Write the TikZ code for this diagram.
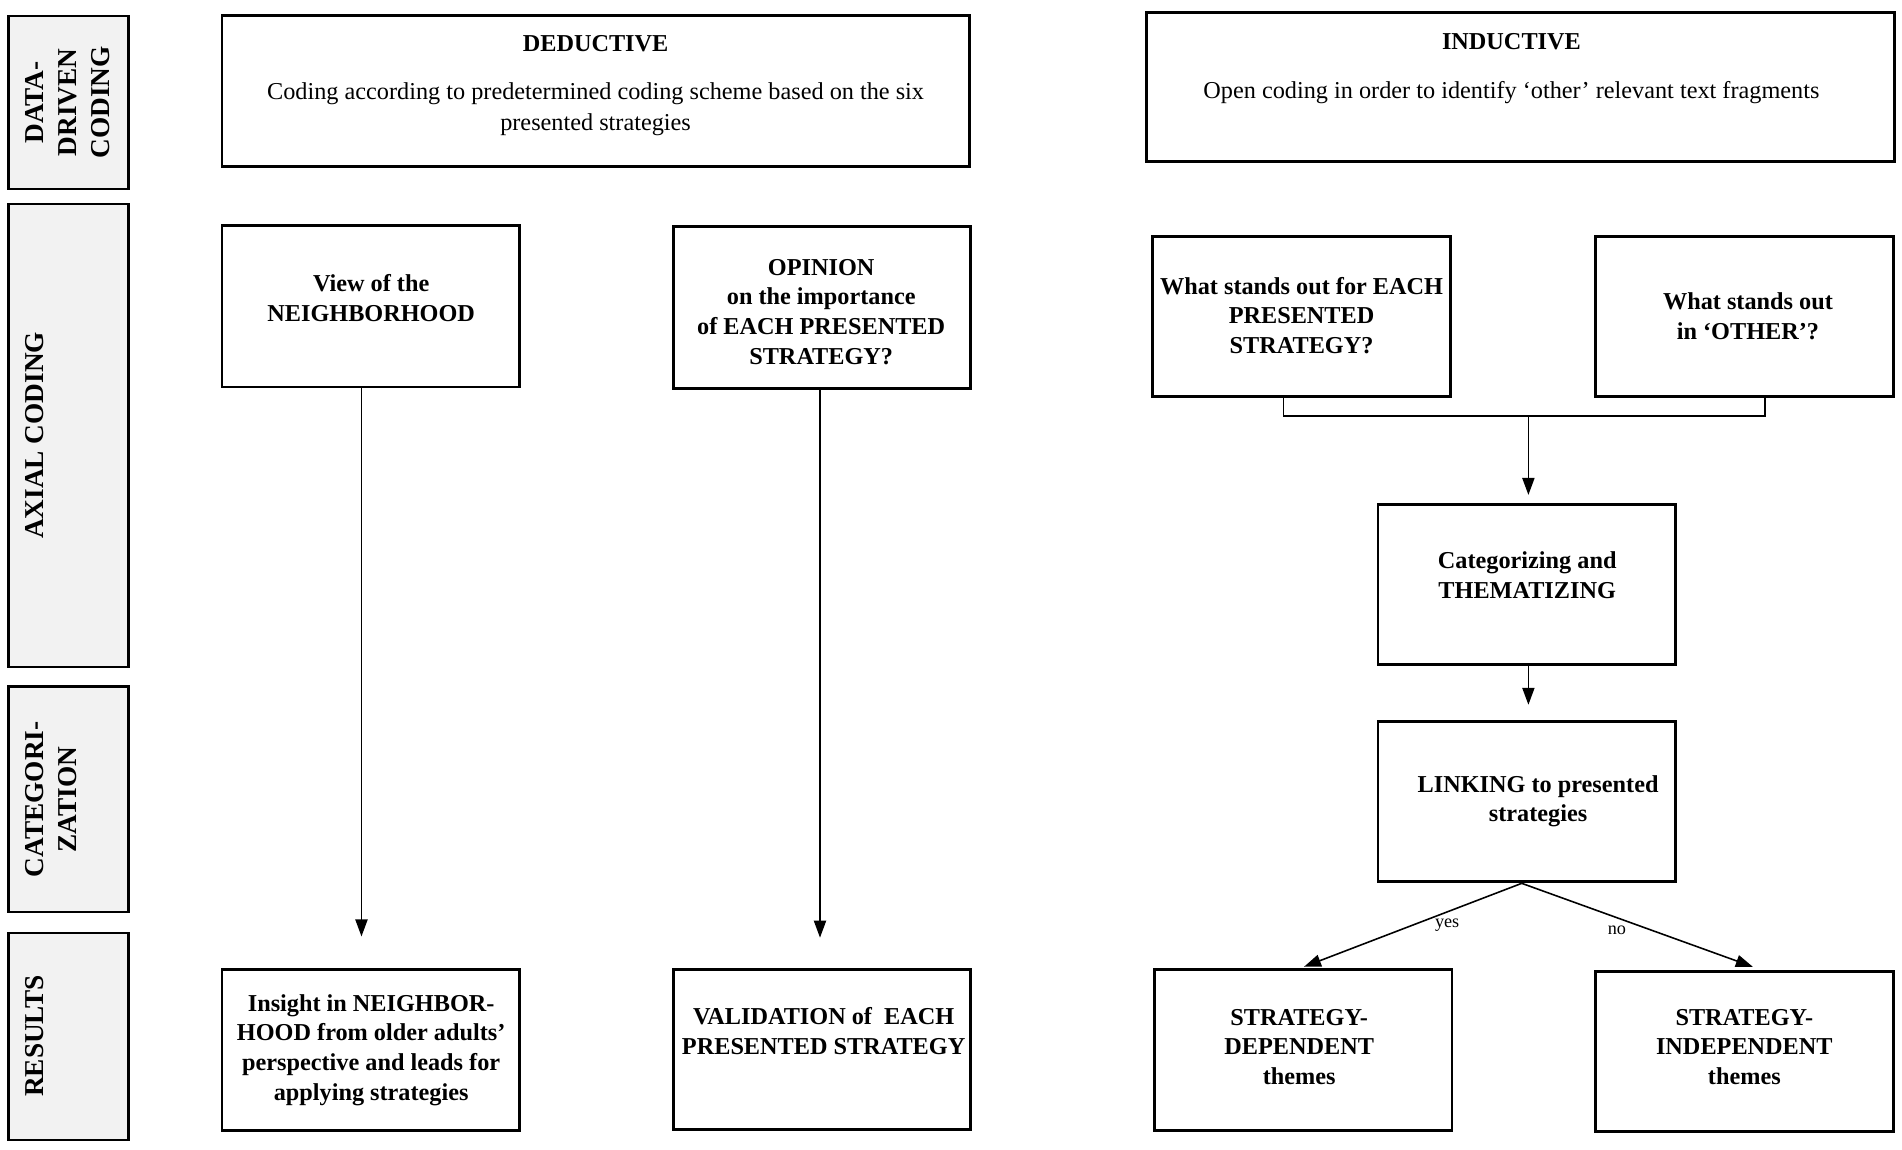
\documentclass[tikz,border=0pt]{standalone}
\usepackage{fontspec}
\setmainfont{Liberation Serif}
\usetikzlibrary{arrows.meta}
\definecolor{labgray}{RGB}{242,242,242}
\begin{document}
\begin{tikzpicture}[x=1pt,y=-1pt,
  box/.style={draw=black, line width=2.4pt, inner sep=0pt},
  lab/.style={draw=black, line width=2pt, fill=labgray, inner sep=0pt, minimum width=99pt},
  ltxt/.style={rotate=90, anchor=north, inner sep=0pt, align=center, font=\fontsize{22.5}{27}\selectfont\bfseries},
  btxt/.style={align=center, inner sep=0pt, font=\fontsize{20}{24.5}\selectfont\bfseries},
  rtxt/.style={align=center, inner sep=0pt, font=\fontsize{20}{26}\selectfont},
  small/.style={inner sep=0pt, font=\fontsize{15}{18}\selectfont},
  arr/.style={line width=1.3pt, -{Triangle[length=14pt,width=10pt]}},
  conn/.style={line width=1.3pt}
]
\useasboundingbox (0,0) rectangle (1568,948);

% row labels
\node[lab, minimum height=143pt] (l1) at (56.5,84.5) {};
\node[lab, minimum height=382pt] (l2) at (56.5,359) {};
\node[lab, minimum height=186pt] (l3) at (56.5,659) {};
\node[lab, minimum height=171pt] (l4) at (56.5,854.5) {};
\node[ltxt] (l1t) at (21,84.5) {DATA-\\DRIVEN\\CODING};
\node[ltxt] (l2t) at (21,359) {AXIAL CODING};
\node[ltxt] (l3t) at (21,659) {CATEGORI-\\ZATION};
\node[ltxt] (l4t) at (21,854) {RESULTS};

% boxes
\node[box, minimum width=616pt, minimum height=124pt] (ded) at (491,75) {};
\node[box, minimum width=617pt, minimum height=123pt] (ind) at (1253.5,71.5) {};
\node[box, minimum width=245pt, minimum height=133pt] (view) at (305.5,252.5) {};
\node[box, minimum width=245pt, minimum height=133pt] (opin) at (677.5,253.5) {};
\node[box, minimum width=246pt, minimum height=132pt] (each) at (1073,261) {};
\node[box, minimum width=246pt, minimum height=132pt] (other) at (1438,261) {};
\node[box, minimum width=245pt, minimum height=132pt] (cat) at (1258.5,482) {};
\node[box, minimum width=245pt, minimum height=132pt] (link) at (1258.5,661) {};
\node[box, minimum width=245pt, minimum height=133pt] (dep) at (1074.5,865.5) {};
\node[box, minimum width=246pt, minimum height=132pt] (indep) at (1438,867) {};
\node[box, minimum width=245pt, minimum height=133pt] (ins) at (305.5,865.5) {};
\node[box, minimum width=245pt, minimum height=132pt] (val) at (677.5,865) {};

% texts
\node[btxt] (dedt) at (491,36) {DEDUCTIVE};
\node[rtxt] (dedb) at (491,90) {Coding according to predetermined coding scheme based on the six\\presented strategies};
\node[btxt] (indt) at (1246,34) {INDUCTIVE};
\node[rtxt] (indb) at (1246,76) {Open coding in order to identify ‘other’ relevant text fragments};
\node[btxt] (viewt) at (306,246) {View of the\\NEIGHBORHOOD};
\node[btxt] (opint) at (677,257) {OPINION\\on the importance\\of EACH PRESENTED\\STRATEGY?};
\node[btxt] (eacht) at (1073,260) {What stands out for EACH\\PRESENTED\\STRATEGY?};
\node[btxt] (othert) at (1441,260.5) {What stands out\\in ‘OTHER’?};
\node[btxt] (catt) at (1259,474) {Categorizing and\\THEMATIZING};
\node[btxt] (linkt) at (1268,660.5) {LINKING to presented\\strategies};
\node[btxt] (dept) at (1071,863) {STRATEGY-\\DEPENDENT\\themes};
\node[btxt] (indept) at (1438,863) {STRATEGY-\\INDEPENDENT\\themes};
\node[btxt] (inst) at (306,865.5) {Insight in NEIGHBOR-\\HOOD from older adults’\\perspective and leads for\\applying strategies};
\node[btxt] (valt) at (679,850) {VALIDATION of\ \ EACH\\PRESENTED STRATEGY};

% connectors
\coordinate (a1) at (298,772);
\coordinate (a2) at (676,773);
\draw[arr] (view.south -| a1) -- (a1);
\draw[arr] (opin.south -| a2) -- (a2);

\coordinate (bl) at (1058,343);
\coordinate (br) at (1455,343);
\coordinate (bm) at (1260,343);
\coordinate (a3) at (1260,408);
\draw[conn] (bl |- each.south) -- (bl) -- (br) -- (br |- other.south);
\draw[arr] (bm) -- (a3);

\coordinate (a4) at (1260,581);
\draw[arr] (cat.south -| a4) -- (a4);

\coordinate (a5) at (1075,797);
\coordinate (a6) at (1445,797);
\draw[arr] ([xshift=-4pt]link.south) -- (a5);
\draw[arr] ([xshift=-4pt]link.south) -- (a6);
\node[small] (yes) at (1193,763) {yes};
\node[small] (no) at (1333,767) {no};
\end{tikzpicture}
\end{document}
